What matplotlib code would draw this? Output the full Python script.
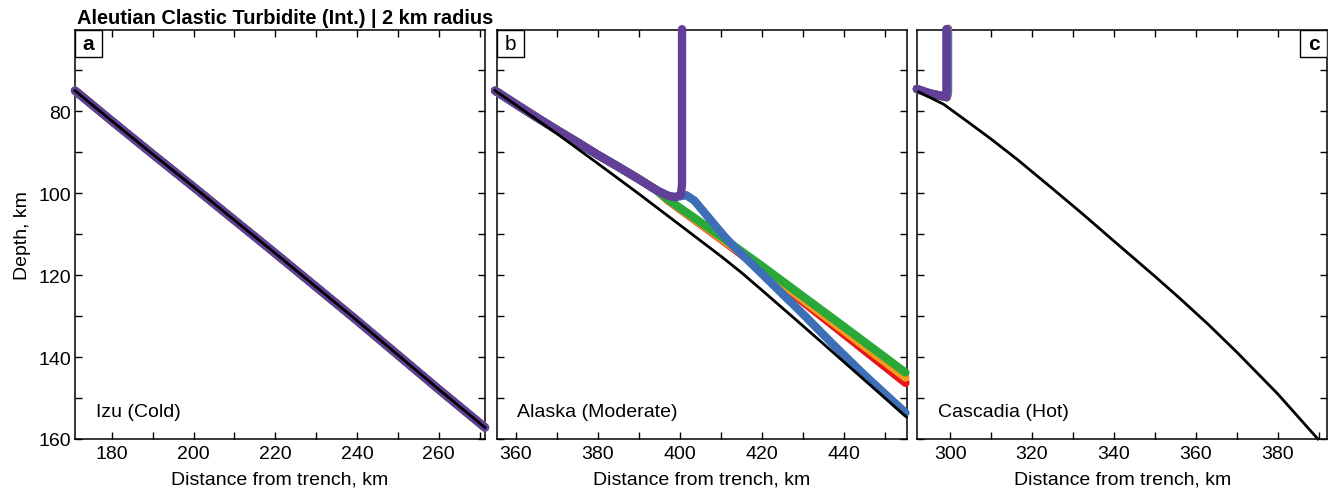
import matplotlib
matplotlib.use("Agg")
import matplotlib.pyplot as plt
from matplotlib.ticker import MultipleLocator
from matplotlib.patches import Rectangle

plt.rcParams['font.family'] = ['Liberation Sans', 'DejaVu Sans']

# ---------------- data ----------------
title = "Aleutian Clastic Turbidite (Int.) | 2 km radius"
panel_names = ["Izu (Cold)", "Alaska (Moderate)", "Cascadia (Hot)"]
panel_letters = ["a", "b", "c"]
series_order = ["red", "orange", "green", "blue", "purple"]
series_colors = {"red": "#e8141c", "orange": "#f79a1e", "green": "#2aa838",
                 "blue": "#3d6fb6", "purple": "#643f97"}
xlims = [(171.0, 271.3), (355.3, 455.3), (292.0, 392.1)]
ylim = (160, 60.2)

# Izu (Cold): slab top and paths (all paths coincide with slab)
izu_slab_x = [171.0, 180, 190, 200, 210, 220, 230, 240, 250, 260, 271.3]
izu_slab_depth = [75.0, 82.4, 90.5, 98.5, 106.6, 114.7, 122.9, 131.1, 139.5, 147.9, 157.2]
izu_paths = {k: (izu_slab_x, izu_slab_depth) for k in series_order}

# Alaska (Moderate)
alaska_slab_x = [354.9, 365, 370, 380, 390, 400, 410, 415, 420, 430, 440, 455.2]
alaska_slab_depth = [75.0, 82.0, 85.5, 92.8, 100.2, 107.8, 115.4, 119.4, 123.7, 132.4, 141.2, 154.6]
alaska_shared_x = [354.9, 360, 365, 370, 375, 380, 385, 390, 394.3]
alaska_shared_depth = [75.0, 78.3, 81.5, 84.6, 87.6, 90.7, 93.6, 96.6, 99.3]
alaska_purple_x = alaska_shared_x + [397.0, 398.8, 400.2, 400.5, 400.5]
alaska_purple_depth = alaska_shared_depth + [100.6, 101.0, 100.4, 98.0, 60.0]
alaska_blue_x = alaska_shared_x + [397.0, 398.8, 401.5, 403.5, 407.0, 410.6, 413.0, 420, 430, 437.4, 445, 455.0]
alaska_blue_depth = alaska_shared_depth + [100.6, 101.0, 100.5, 101.8, 106.0, 110.3, 112.9, 119.7, 129.5, 137.0, 144.4, 153.6]
alaska_green_x = alaska_shared_x + [397.0, 400, 410, 420, 430, 440, 455.0]
alaska_green_depth = alaska_shared_depth + [101.5, 103.6, 110.6, 117.8, 125.2, 132.6, 143.8]
alaska_orange_x = alaska_shared_x + [397.0, 400, 410, 420, 430, 440, 455.0]
alaska_orange_depth = alaska_shared_depth + [101.6, 103.8, 111.0, 118.4, 126.0, 133.6, 145.0]
alaska_red_x = alaska_shared_x + [397.0, 400, 410, 420, 430, 440, 455.0]
alaska_red_depth = alaska_shared_depth + [101.7, 103.9, 111.2, 118.7, 126.5, 134.4, 146.3]
alaska_paths = {"red": (alaska_red_x, alaska_red_depth),
                "orange": (alaska_orange_x, alaska_orange_depth),
                "green": (alaska_green_x, alaska_green_depth),
                "blue": (alaska_blue_x, alaska_blue_depth),
                "purple": (alaska_purple_x, alaska_purple_depth)}

# Cascadia (Hot)
cascadia_slab_x = [292.3, 298.4, 305, 310, 316.3, 325, 332.5, 340, 345, 350, 356, 363, 370, 380, 389.8]
cascadia_slab_depth = [75.3, 78.3, 83.1, 86.8, 91.7, 98.9, 105.2, 111.7, 116.0, 120.3, 125.6, 132.0, 138.8, 149.0, 160.0]
cascadia_red_x = [291.9, 295.0, 299.2, 299.5, 299.5]
cascadia_red_depth = [74.6, 75.7, 76.6, 75.5, 59.9]
cascadia_orange_x = [291.9, 295.0, 299.2, 299.45, 299.45]
cascadia_orange_depth = [74.6, 75.7, 76.6, 75.5, 60.0]
cascadia_green_x = [291.9, 295.0, 299.1, 299.3, 299.3]
cascadia_green_depth = [74.6, 75.7, 76.6, 75.5, 60.0]
cascadia_blue_x = [291.9, 295.0, 299.2, 299.4, 299.4]
cascadia_blue_depth = [74.6, 75.7, 76.6, 75.5, 60.0]
cascadia_purple_x = [291.9, 295.0, 299.0, 299.1, 299.1]
cascadia_purple_depth = [74.6, 75.6, 76.5, 75.5, 60.0]
cascadia_paths = {"red": (cascadia_red_x, cascadia_red_depth),
                  "orange": (cascadia_orange_x, cascadia_orange_depth),
                  "green": (cascadia_green_x, cascadia_green_depth),
                  "blue": (cascadia_blue_x, cascadia_blue_depth),
                  "purple": (cascadia_purple_x, cascadia_purple_depth)}

slabs = [(izu_slab_x, izu_slab_depth), (alaska_slab_x, alaska_slab_depth),
         (cascadia_slab_x, cascadia_slab_depth)]
paths = [izu_paths, alaska_paths, cascadia_paths]

# ---------------- figure ----------------
W, H = 1329, 489
fig = plt.figure(figsize=(W / 100, H / 100), dpi=100)
lefts = [75, 496.7, 917.3]
axw, top, bottom = 410, 31, 440

fs = 14
for i in range(3):
    ax = fig.add_axes([lefts[i] / W, (H - bottom) / H, axw / W, (bottom - top) / H])
    for key in series_order:
        px, py = paths[i][key]
        ax.plot(px, py, color=series_colors[key], lw=6.0, solid_capstyle='round',
                solid_joinstyle='round', clip_on=False, zorder=3)
    sx, sy = slabs[i]
    ax.plot(sx, sy, color='black', lw=2.0, clip_on=False, zorder=4,
            solid_joinstyle='round')
    ax.set_xlim(*xlims[i])
    ax.set_ylim(*ylim)
    ax.xaxis.set_major_locator(MultipleLocator(20))
    ax.xaxis.set_minor_locator(MultipleLocator(10))
    ax.yaxis.set_major_locator(MultipleLocator(20))
    ax.yaxis.set_minor_locator(MultipleLocator(10))
    ax.tick_params(which='both', direction='in', top=True, right=True,
                   length=5, width=1, labelsize=fs, pad=3)
    ax.tick_params(axis='x', pad=4.5)
    for sp in ax.spines.values():
        sp.set_linewidth(1.1)
    ax.set_xlabel("Distance from trench, km", fontsize=fs, labelpad=6)
    if i == 0:
        ax.set_ylabel("Depth, km", fontsize=fs, labelpad=5)
    else:
        ax.tick_params(labelleft=False)
    ax.text(0.05, 0.068, panel_names[i], transform=ax.transAxes, fontsize=fs,
            ha='left', va='center')
    bw, bh = 27 / axw, 27 / (bottom - top)
    bx = 0 if i != 2 else 1 - bw
    ax.add_patch(Rectangle((bx, 1 - bh), bw, bh, transform=ax.transAxes,
                           fc='white', ec='black', lw=1, zorder=6))
    ax.text(bx + bw / 2, 1 - bh / 2, panel_letters[i], transform=ax.transAxes,
            fontsize=fs + 1, ha='center', va='center', zorder=7,
            fontweight='normal' if i == 1 else 'bold')

fig.text(77 / W, 1 - 19 / H, title, fontsize=14.4, fontweight='bold',
         ha='left', va='center')

fig.savefig("out.png", dpi=100)
